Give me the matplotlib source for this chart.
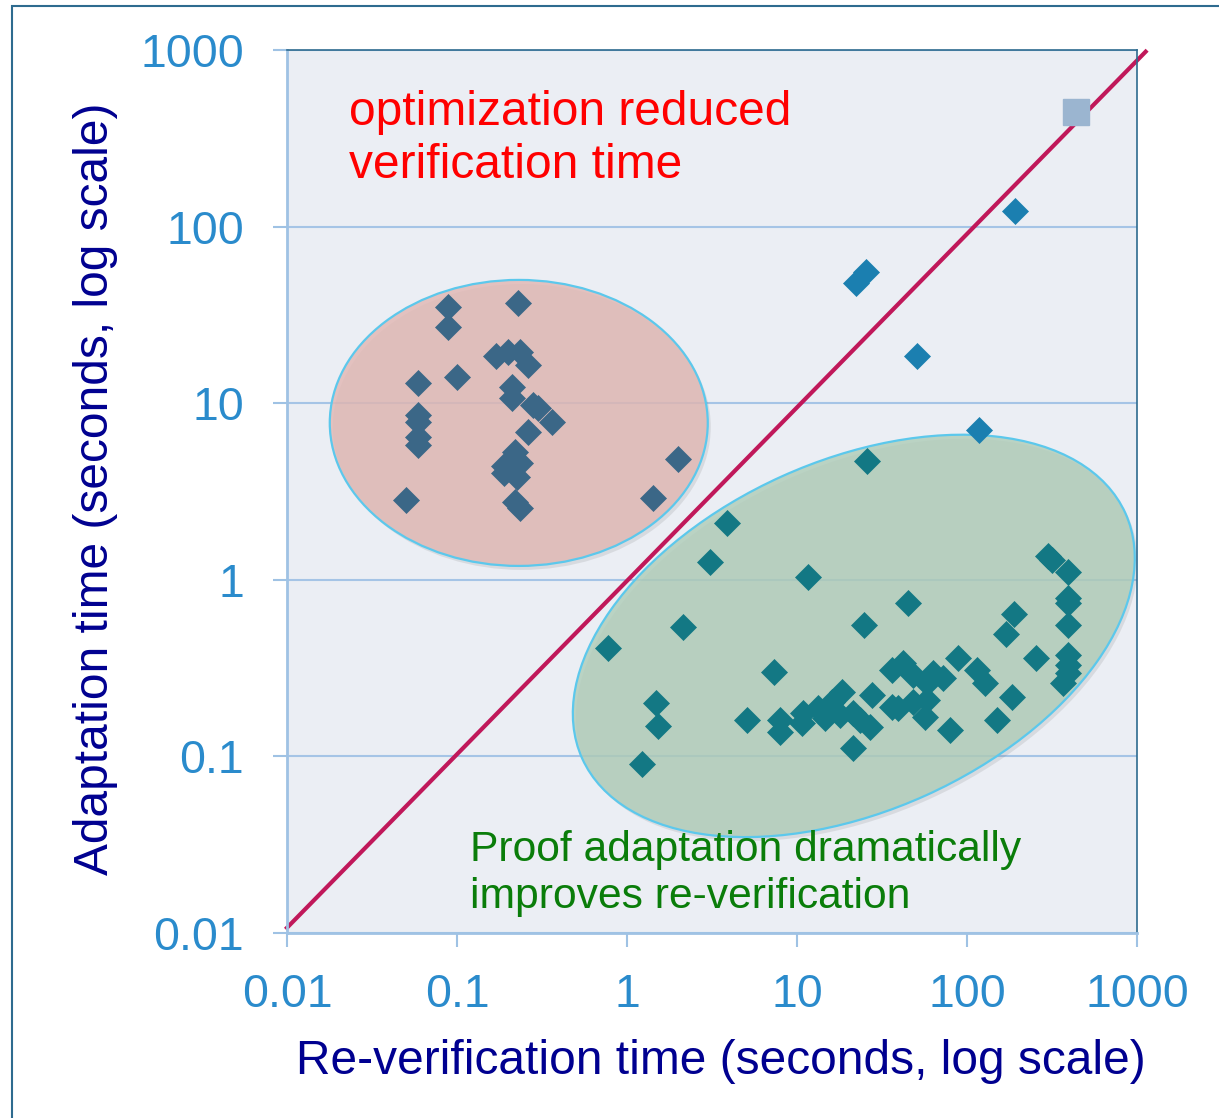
import matplotlib
matplotlib.use('Agg')
import matplotlib.pyplot as plt
from matplotlib.patches import Ellipse, Rectangle
from matplotlib.transforms import ScaledTranslation
from matplotlib.ticker import FixedLocator, FixedFormatter, NullLocator
from matplotlib.colors import to_rgba

plt.rcParams['font.family'] = ['Liberation Sans', 'DejaVu Sans']

# runs where optimization reduced verification time (red ellipse)
red_x = [0.089, 0.089, 0.23, 0.17, 0.20, 0.235, 0.26, 0.059, 0.10, 0.21,
         0.21, 0.28, 0.30, 0.36, 0.059, 0.059, 0.059, 0.059, 0.26, 0.22,
         0.235, 0.19, 0.19, 0.225, 0.050, 0.22, 0.235, 2.0, 1.42]
red_y = [35, 27, 37, 18.5, 19.5, 19.5, 16.5, 13, 14, 12.4,
         10.7, 9.8, 9.4, 7.8, 8.6, 7.8, 6.4, 5.8, 6.9, 5.3,
         4.6, 4.4, 4.0, 3.8, 2.83, 2.76, 2.55, 4.8, 2.9]

# runs where proof adaptation wins (green ellipse)
green_x = [3.9, 3.1, 11.6, 2.13, 0.77, 24.8, 7.3, 1.48, 1.52, 5.1,
           1.22, 7.9, 7.9, 10.8, 10.7, 13.3, 14.6, 16.1, 18.4, 17.9,
           21.3, 23.5, 26.9, 27.6, 21.3, 36.2, 42, 48, 36.2, 39.3,
           48, 58, 56.6, 63, 72, 88.5, 114, 128, 79, 150,
           25.8, 45, 299, 316, 393, 393, 393, 189, 169, 393,
           255, 393, 393, 393, 367, 184, 58]
green_y = [2.1, 1.26, 1.04, 0.54, 0.41, 0.555, 0.30, 0.20, 0.149, 0.161,
           0.091, 0.161, 0.137, 0.176, 0.155, 0.188, 0.165, 0.203, 0.232, 0.171,
           0.176, 0.161, 0.147, 0.223, 0.112, 0.308, 0.338, 0.289, 0.19, 0.188,
           0.203, 0.209, 0.167, 0.297, 0.278, 0.361, 0.308, 0.261, 0.141, 0.161,
           4.71, 0.74, 1.36, 1.29, 1.11, 0.79, 0.74, 0.64, 0.49, 0.555,
           0.361, 0.375, 0.33, 0.297, 0.261, 0.217, 0.261]

# remaining runs
blue_x = [191, 25.5, 22.2, 51, 118]
blue_y = [122, 55, 48, 18.5, 7.05]

sq_x = [440]
sq_y = [445]

diag_x = [0.01, 1125]
diag_y = [0.0107, 978]

ticks = [0.01, 0.1, 1, 10, 100, 1000]
tick_labels = ['0.01', '0.1', '1', '10', '100', '1000']

fig = plt.figure(figsize=(12.19, 11.18), dpi=100)
ax = fig.add_axes([0.2354, 0.1655, 0.6973, 0.7898])
ax.set_facecolor('#ebeef4')
ax.set_xscale('log')
ax.set_yscale('log')
ax.set_xlim(0.01, 1000)
ax.set_ylim(0.01, 1000)

for axis in (ax.xaxis, ax.yaxis):
    axis.set_major_locator(FixedLocator(ticks))
    axis.set_major_formatter(FixedFormatter(tick_labels))
    axis.set_minor_locator(NullLocator())

ax.tick_params(direction='out', length=10, width=1.5, color='#9fc2e4',
               labelsize=33.5, labelcolor='#2a8bcc')
ax.tick_params(axis='y', pad=21)
ax.tick_params(axis='x', pad=19)
ax.yaxis.grid(True, color='#a5c4e6', lw=1.5, zorder=0.5)
ax.set_axisbelow(True)

for s in ('left', 'bottom'):
    ax.spines[s].set_color('#9fc2e4')
    ax.spines[s].set_linewidth(2)
for s in ('top', 'right'):
    ax.spines[s].set_color('#2e6b8f')
    ax.spines[s].set_linewidth(1.2)


def blob(cx, cy, w, h, ang, fc):
    tr = fig.dpi_scale_trans + ScaledTranslation(cx, cy, ax.transData)
    # soft drop shadow, then the translucent ellipse
    ax.add_patch(Ellipse((0.03, -0.04), w, h, angle=ang, fc=(0.3, 0.3, 0.3, 0.12),
                         ec='none', transform=tr, zorder=1))
    ax.add_patch(Ellipse((0, 0), w, h, angle=ang, fc=to_rgba(fc, 0.82),
                         ec='#5cc8ec', lw=1.6, transform=tr, zorder=1.1))


blob(0.231, 7.73, 3.78, 2.86, 0, '#e2b8b4')
blob(21.6, 0.481, 5.96, 3.50, 24.3, '#b0cdb9')

ax.plot(diag_x, diag_y, color='#c0185a', lw=3, clip_on=False, zorder=2)

ax.plot(red_x, red_y, 'D', ms=13, color='#3b6787', mec='#3b6787', mew=0.5, zorder=3)
ax.plot(green_x, green_y, 'D', ms=13, color='#137884', mec='#137884', mew=0.5, zorder=3)
ax.plot(blue_x, blue_y, 'D', ms=13, color='#1b7fb0', mec='#1b7fb0', mew=0.5, zorder=3)
ax.plot(sq_x, sq_y, 's', ms=19, color='#9bb5d0', mec='#9bb5d0', zorder=3)

ax.text(0.073, 0.915, 'optimization reduced', transform=ax.transAxes,
        fontsize=34.5, color='#ff0000', va='baseline')
ax.text(0.073, 0.855, 'verification time', transform=ax.transAxes,
        fontsize=34.5, color='#ff0000', va='baseline')
ax.text(0.215, 0.082, 'Proof adaptation dramatically', transform=ax.transAxes,
        fontsize=30.7, color='#0a7d0a', va='baseline')
ax.text(0.215, 0.028, 'improves re-verification', transform=ax.transAxes,
        fontsize=30.7, color='#0a7d0a', va='baseline')

ax.set_xlabel('Re-verification time (seconds, log scale)', fontsize=34.5,
              color='#000090', va='center')
ax.xaxis.set_label_coords(0.511, -0.146)
ax.set_ylabel('Adaptation time (seconds, log scale)', fontsize=34.5,
              color='#000090', va='center')
ax.yaxis.set_label_coords(-0.225, 0.503)

fig.patches.append(Rectangle((12 / 1219, -0.05), 1.1, 1.0446, transform=fig.transFigure,
                             fill=False, ec='#2e6b8f', lw=1.5, figure=fig))

fig.savefig('out.png', dpi=100)
